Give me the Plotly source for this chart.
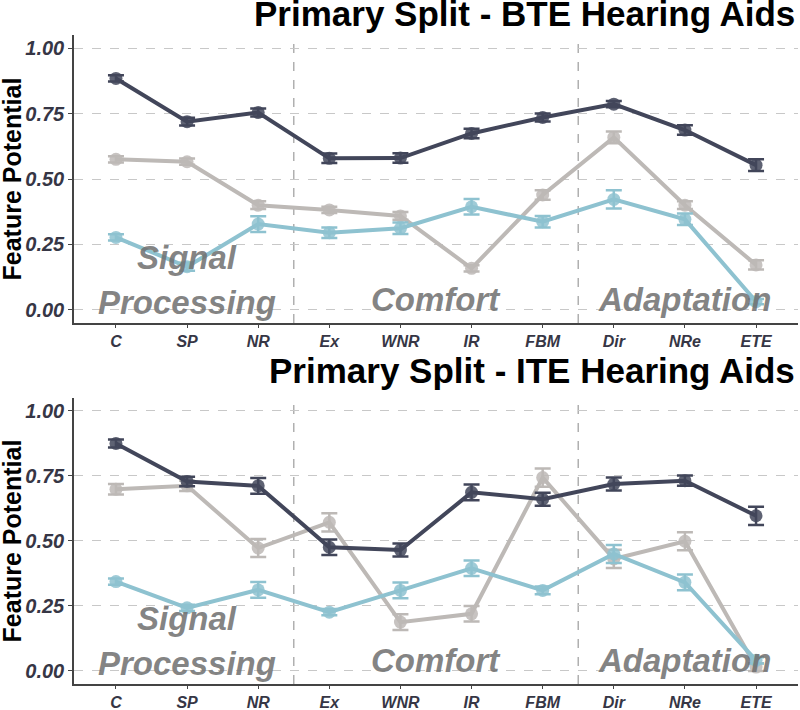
import plotly.graph_objects as go

categories = ["C", "SP", "NR", "Ex", "WNR", "IR", "FBM", "Dir", "NRe", "ETE"]
y_ticks = [0.0, 0.25, 0.5, 0.75, 1.0]
y_tick_labels = ["0.00", "0.25", "0.50", "0.75", "1.00"]

# Top panel: BTE
bte_dark = [0.884, 0.719, 0.754, 0.579, 0.580, 0.674, 0.735, 0.786, 0.687, 0.553]
bte_dark_err = [0.012, 0.015, 0.015, 0.018, 0.018, 0.018, 0.015, 0.012, 0.018, 0.022]
bte_grey = [0.575, 0.566, 0.400, 0.382, 0.359, 0.159, 0.439, 0.659, 0.400, 0.172]
bte_grey_err = [0.012, 0.012, 0.015, 0.012, 0.015, 0.012, 0.018, 0.022, 0.015, 0.018]
bte_blue = [0.277, 0.165, 0.328, 0.295, 0.312, 0.394, 0.337, 0.422, 0.346, 0.032]
bte_blue_err = [0.012, 0.015, 0.030, 0.020, 0.022, 0.030, 0.022, 0.035, 0.022, 0.010]

# Bottom panel: ITE
ite_dark = [0.875, 0.729, 0.712, 0.476, 0.465, 0.687, 0.661, 0.719, 0.732, 0.597]
ite_dark_err = [0.015, 0.018, 0.030, 0.030, 0.025, 0.030, 0.025, 0.025, 0.020, 0.035]
ite_grey = [0.699, 0.712, 0.473, 0.572, 0.188, 0.220, 0.744, 0.431, 0.499, 0.015]
ite_grey_err = [0.020, 0.020, 0.035, 0.035, 0.030, 0.030, 0.035, 0.035, 0.035, 0.015]
ite_blue = [0.344, 0.243, 0.312, 0.226, 0.310, 0.395, 0.310, 0.450, 0.341, 0.041]
ite_blue_err = [0.012, 0.012, 0.030, 0.012, 0.030, 0.030, 0.015, 0.035, 0.030, 0.012]

titles = ["Primary Split - BTE Hearing Aids", "Primary Split - ITE Hearing Aids"]
y_title = "Feature Potential"

DARK = "#42465a"
GREY = "#bdb9b6"
BLUE = "#8ec2d0"

fig = go.Figure()

panels = [
    ("x", "y", [(bte_grey, bte_grey_err, GREY), (bte_blue, bte_blue_err, BLUE), (bte_dark, bte_dark_err, DARK)]),
    ("x2", "y2", [(ite_grey, ite_grey_err, GREY), (ite_blue, ite_blue_err, BLUE), (ite_dark, ite_dark_err, DARK)]),
]

for xa, ya, series in panels:
    for vals, errs, col in series:
        fig.add_trace(go.Scatter(
            x=categories, y=vals, xaxis=xa, yaxis=ya, mode="lines+markers",
            line=dict(color=col, width=4),
            marker=dict(color=col, size=13, opacity=0.85),
            error_y=dict(type="data", array=errs, visible=True, color=col, thickness=2.5, width=8),
            showlegend=False, hoverinfo="skip",
        ))

tick_font = dict(family="Liberation Sans", size=20, color="#363645")
xtick_font = dict(family="Liberation Sans", size=16, color="#363645")

common_x = dict(
    type="category", categoryorder="array", categoryarray=categories,
    range=[-0.59, 9.59], showgrid=False, showline=True, linecolor="#444444", linewidth=1.5,
    ticks="outside", ticklen=3, tickcolor="#444444", tickfont=xtick_font, zeroline=False,
    automargin=False,
)
common_y = dict(
    range=[-0.05, 1.05], tickvals=y_ticks, ticktext=["<b><i>%s</i></b>" % t for t in y_tick_labels],
    showgrid=True, gridcolor="#c8c8c8", griddash="dash", gridwidth=1,
    showline=True, linecolor="#444444", linewidth=1.5, ticks="outside", ticklen=4,
    tickcolor="#444444", tickfont=tick_font, zeroline=False, automargin=False,
)

xticktext = ["<b><i>%s</i></b>" % c for c in categories]
fig.update_layout(
    xaxis=dict(common_x, domain=[0, 1], anchor="y", tickvals=categories, ticktext=xticktext),
    yaxis=dict(common_y, domain=[0.5562, 1.0], anchor="x"),
    xaxis2=dict(common_x, domain=[0, 1], anchor="y2", tickvals=categories, ticktext=xticktext),
    yaxis2=dict(common_y, domain=[0.0, 0.4407], anchor="x2"),
    width=800, height=710,
    margin=dict(l=74, r=2, t=35, b=26, autoexpand=False),
    plot_bgcolor="white", paper_bgcolor="white",
)

# vertical separators
for xr, yr in [("x", "y"), ("x2", "y2")]:
    for xv in [2.5, 6.5]:
        fig.add_shape(type="line", xref=xr, yref=yr + " domain", x0=xv, x1=xv, y0=0, y1=1,
                      line=dict(color="#b0b0b0", width=1.5, dash="dash"), layer="below")

# titles
for txt, yp in zip(titles, [1.0324, 0.4838]):
    fig.add_annotation(text="<b>%s</b>" % txt, xref="paper", yref="paper", x=0.999, y=yp,
                       xanchor="right", yanchor="middle", showarrow=False,
                       font=dict(family="Liberation Sans", size=35, color="black"))

# y-axis titles
for yr in ["y", "y2"]:
    fig.add_annotation(text="<b>%s</b>" % y_title, xref="paper", yref=yr + " domain",
                       x=-0.085, y=0.5, textangle=-90, showarrow=False,
                       xanchor="center", yanchor="middle",
                       font=dict(family="Liberation Sans", size=25, color="black"))

# group labels
text_font = dict(family="Liberation Sans", size=33, color="rgba(110,110,110,0.85)")
for xr, yr in [("x", "y"), ("x2", "y2")]:
    fig.add_annotation(text="<b><i>Signal</i></b>", xref=xr, yref=yr, x=1, y=0.20,
                       showarrow=False, font=text_font, yanchor="middle")
    fig.add_annotation(text="<b><i>Processing</i></b>", xref=xr, yref=yr, x=1, y=0.03,
                       showarrow=False, font=text_font, yanchor="middle")
    fig.add_annotation(text="<b><i>Comfort</i></b>", xref=xr, yref=yr, x=4.5, y=0.04,
                       showarrow=False, font=text_font, yanchor="middle")
    fig.add_annotation(text="<b><i>Adaptation</i></b>", xref=xr, yref=yr, x=8.0, y=0.04,
                       showarrow=False, font=text_font, yanchor="middle")

fig.write_html("out.html", config={"displayModeBar": False},
               post_script="document.body.style.margin='0';document.body.style.overflow='hidden';")
